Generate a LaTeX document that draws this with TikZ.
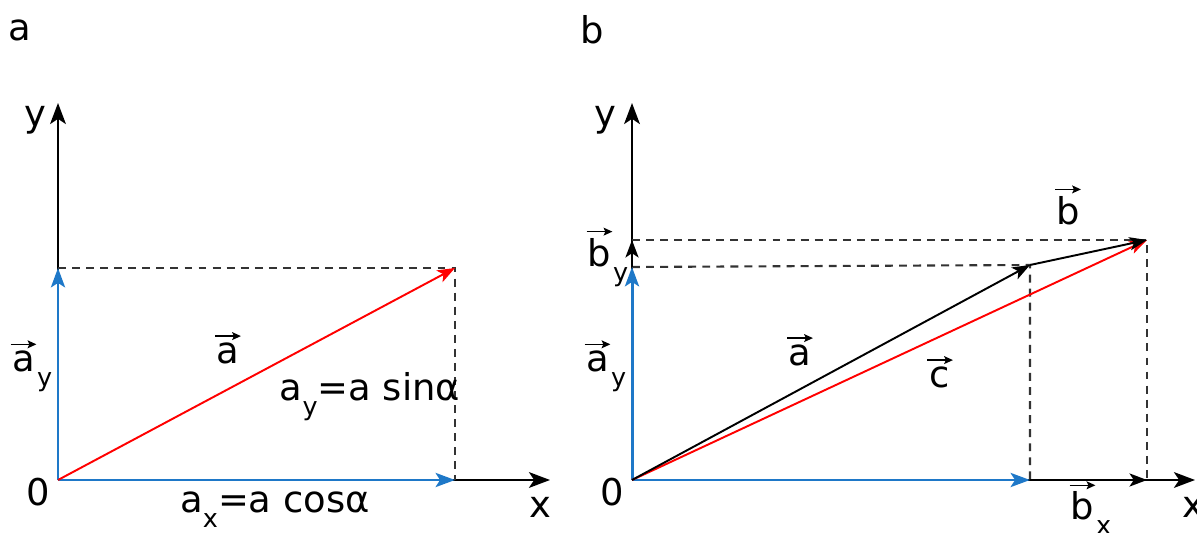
\documentclass[tikz,border=0pt]{standalone}
\usepackage{fontspec}
\setmainfont{DejaVu Sans}
\usetikzlibrary{arrows.meta}
\definecolor{vecblue}{RGB}{30,120,200}
\newcommand{\ov}[1]{\leavevmode\vbox{\offinterlineskip\halign{\hfil##\hfil\cr
  \tikz\draw[line width=0.75pt,-{Stealth[length=5pt,width=4.5pt,inset=1pt]}] (0,0)--(0.7em,0);\cr
  \noalign{\kern1.5pt}#1\cr}}}
\newcommand{\sub}[1]{\raisebox{-0.4em}{\fontsize{14.5}{14.5}\selectfont #1}}
\newcommand{\ovs}[2]{\ov{#1}\sub{#2}}

\begin{document}
\begin{tikzpicture}[x=0.02cm,y=-0.02cm,font=\fontsize{21}{24}\selectfont,
  axis/.style={line width=1.1pt,-{Stealth[length=12pt,width=9pt,inset=3pt]}},
  bluevec/.style={vecblue,line width=1.7pt,-{Stealth[length=11pt,width=8pt,inset=2.5pt]}},
  redvec/.style={red,line width=1.1pt,-{Stealth[length=10pt,width=7.5pt,inset=2.5pt]}},
  blackvec/.style={line width=1.1pt,-{Stealth[length=10pt,width=7.5pt,inset=2.5pt]}},
  guide/.style={line width=1.2pt,black!80,dash pattern=on 4.5pt off 3.5pt}]
  \useasboundingbox (0,0) rectangle (1197,533);
  % panel a
  \node (tA) at (20,30) {a};
  \coordinate (Oa) at (58,480);
  \coordinate (Xa) at (550,480);
  \coordinate (Ya) at (58,103);
  \coordinate (Pa) at (455,480);
  \coordinate (Qa) at (58,268);
  \coordinate (Ra) at (455,268);
  \draw[axis] (Oa)--(Xa);
  \draw[axis] (Oa)--(Ya);
  \draw[guide] (Qa)--(Ra)--(Pa);
  \draw[bluevec] (Oa)--(Pa);
  \draw[bluevec] (Oa)--(Qa);
  \draw[redvec] (Oa)--(Ra);
  \node (ya) at (35,120) {y};
  \node (xa) at (540,507) {x};
  \node (za) at (38,492) {0};
  \node (va) at (228,348) {\ov{a}};
  \node (vay) at (31,366) {\ovs{a}{y}};
  \node (sina) at (370,397) {a\sub{y}=a sinα};
  \node (cosa) at (275,510) {a\sub{x}=a cosα};
  % panel b
  \node (tB) at (592,30) {b};
  \coordinate (Ob) at (632,480);
  \coordinate (Xb) at (1195,480);
  \coordinate (Yb) at (632,103);
  \coordinate (Pb) at (1030,480);
  \coordinate (Sb) at (1147,480);
  \coordinate (Qb) at (632,267);
  \coordinate (Tb) at (632,240);
  \coordinate (Ab) at (1030,265);
  \coordinate (Cb) at (1147,240);
  \draw[axis] (Ob)--(Xb);
  \draw[axis] (Ob)--(Yb);
  \draw[guide] (Qb)--(Ab)--(Pb);
  \draw[guide] (Tb)--(Cb)--(Sb);
  \draw[bluevec] (Ob)--(Pb);
  \draw[bluevec] (Ob)--(Qb);
  \draw[blackvec] (Pb)--(Sb);
  \draw[blackvec] (Qb)--(Tb);
  \draw[redvec] (Ob)--(Cb);
  \draw[blackvec] (Ob)--(Ab);
  \draw[blackvec] (Ab)--(Cb);
  \node (yb) at (605,120) {y};
  \node (xb) at (1193,507) {x};
  \node (zb) at (612,492) {0};
  \node (vb) at (1068,205) {\ov{b}};
  \node (vby) at (607,257) {\ovs{b}{y}};
  \node (vay2) at (605,366) {\ovs{a}{y}};
  \node (vab) at (800,350) {\ov{a}};
  \node (vc) at (940,372) {\ov{c}};
  \node (vbx) at (1090,508) {\ovs{b}{x}};
\end{tikzpicture}
\end{document}
